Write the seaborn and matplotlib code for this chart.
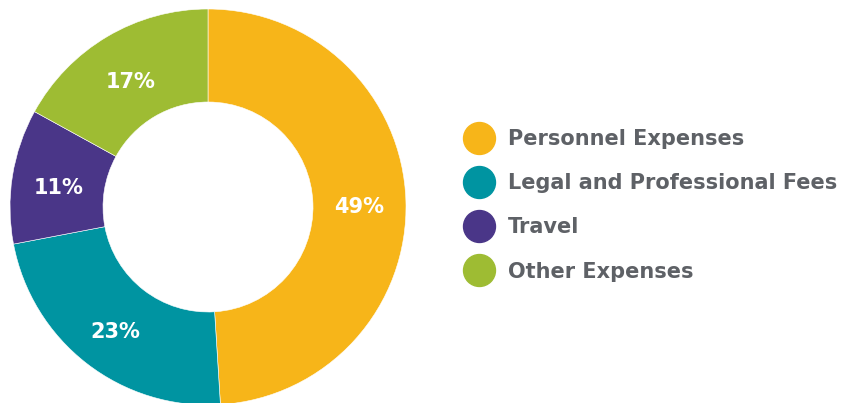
import matplotlib
matplotlib.use("Agg")
import matplotlib.pyplot as plt
from matplotlib.lines import Line2D
from matplotlib.transforms import offset_copy
import seaborn as sns

sns.set_theme(style="white")
plt.rcParams['font.family'] = ['DejaVu Sans']

categories = ["Personnel Expenses", "Legal and Professional Fees", "Travel", "Other Expenses"]
shares = [49, 23, 11, 17]
colors = ["#F7B519", "#0094A1", "#4A3688", "#9EBC33"]
text_gray = "#5E6166"

fig = plt.figure(figsize=(8.5, 4.03), dpi=100)
ax = fig.add_axes([0, 0, 1, 1])

outer_r = 198
ring_w = 93
wedges, texts, autotexts = ax.pie(
    shares,
    colors=sns.color_palette(colors),
    startangle=90,
    counterclock=False,
    center=(208, 196),
    radius=outer_r,
    frame=True,
    autopct=lambda p: f"{p:.0f}%",
    pctdistance=(outer_r - ring_w / 2) / outer_r,
    wedgeprops=dict(width=ring_w, linewidth=0.4, edgecolor="white"),
    textprops=dict(color="white", fontsize=15, fontweight="bold"),
)
ax.set_xlim(0, 850)
ax.set_ylim(0, 403)
ax.set_aspect("equal")
ax.axis("off")

# the labels sit a little below the ring's middle in the original
for t in autotexts:
    t.set_transform(offset_copy(t.get_transform(), fig=fig, y=-5, units="dots"))

handles = [Line2D([0], [0], marker="o", linestyle="", markersize=23,
                  markerfacecolor=c, markeredgecolor=c) for c in colors]
leg = fig.legend(handles, categories, loc="upper left",
                 bbox_to_anchor=(468.6 / 850, 1 - 129 / 403),
                 frameon=False, handlelength=1.0, handletextpad=0.89,
                 labelspacing=1.16, borderaxespad=0, borderpad=0,
                 prop=dict(size=15, weight="bold"))
for t in leg.get_texts():
    t.set_color(text_gray)

fig.savefig("out.png", dpi=100)
